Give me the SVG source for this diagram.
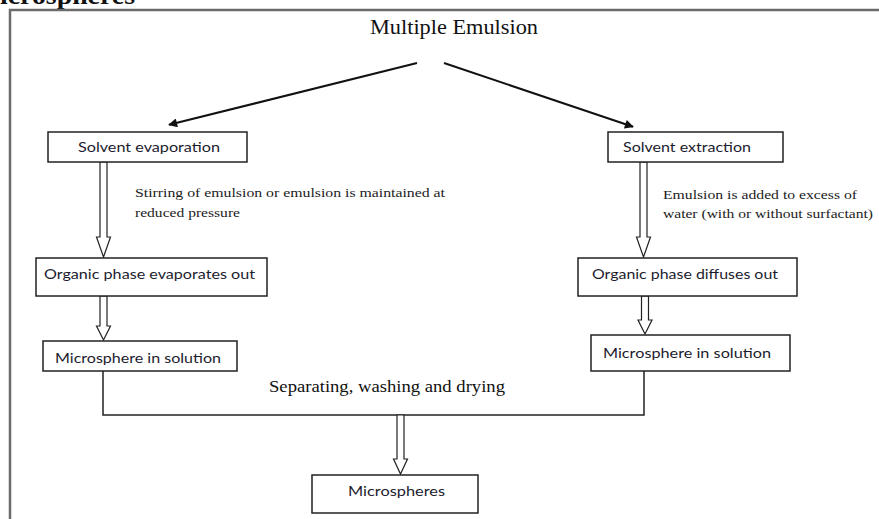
<svg xmlns="http://www.w3.org/2000/svg" width="879" height="519" viewBox="0 0 879 519">
<style>
.frame{fill:none;stroke:#6b6b6b;stroke-width:2.5}
.box{fill:#fff;stroke:#222;stroke-width:1.5}
.lbl{font-family:Lato,"Open Sans","Liberation Sans",sans-serif;font-size:14px;fill:#1c1c2e}
.note{font-family:"Liberation Serif","Times New Roman",serif;font-size:12.5px;fill:#222}
.serif{font-family:"Liberation Serif","Times New Roman",serif;fill:#111}
.hollow{fill:#fff;stroke:#222;stroke-width:1.2}
.line{fill:none;stroke:#222;stroke-width:1.5}
.dir{fill:none;stroke:#111;stroke-width:2}
</style>
<defs>
<marker id="ah" viewBox="0 0 10 10" refX="9" refY="5" markerWidth="10" markerHeight="9" markerUnits="userSpaceOnUse" orient="auto">
<path d="M0,0 L10,5 L0,10 z" fill="#111"/>
</marker>
</defs>
<rect width="879" height="519" fill="#fff"/>
<text class="serif" x="0" y="4" font-size="26" font-weight="bold" textLength="135" lengthAdjust="spacingAndGlyphs">icrospheres</text>
<path class="frame" d="M10,519 L10,10 L879,10"/>
<g id="title">
<text class="serif" x="454" y="34" font-size="21" text-anchor="middle" textLength="168" lengthAdjust="spacingAndGlyphs">Multiple Emulsion</text>
</g>
<g id="connectors">
<line class="dir" x1="417" y1="63" x2="169" y2="124.8" marker-end="url(#ah)"/>
<line class="dir" x1="444" y1="63" x2="633" y2="126.8" marker-end="url(#ah)"/>
<polygon class="hollow" points="100,162 107,162 107,237 110.5,237 103.5,257 96.5,237 100,237"/>
<polygon class="hollow" points="640,162 647,162 647,237 650.5,237 643.5,257 636.5,237 640,237"/>
<polygon class="hollow" points="100,296 107,296 107,326 110.5,326 103.5,340 96.5,326 100,326"/>
<polygon class="hollow" points="641.5,296 648.5,296 648.5,320 652,320 645,334 638,320 641.5,320"/>
<polyline class="line" points="103,371 103,415 644,415 644,371"/>
<polygon class="hollow" points="397,415 404,415 404,459 407.5,459 400.5,474 393.5,459 397,459"/>
<text class="note" x="135" y="197" textLength="310" lengthAdjust="spacingAndGlyphs">Stirring of emulsion or emulsion is maintained at</text>
<text class="note" x="135" y="217" textLength="105" lengthAdjust="spacingAndGlyphs">reduced pressure</text>
<text class="note" x="663" y="199" textLength="194" lengthAdjust="spacingAndGlyphs">Emulsion is added to excess of</text>
<text class="note" x="663" y="218" textLength="210" lengthAdjust="spacingAndGlyphs">water (with or without surfactant)</text>
<text class="serif" x="269" y="392" font-size="17" textLength="236" lengthAdjust="spacingAndGlyphs">Separating, washing and drying</text>
</g>
<g id="n-evap">
<rect class="box" x="48" y="132" width="199" height="30"/>
<text class="lbl" x="78" y="152" textLength="142" lengthAdjust="spacingAndGlyphs">Solvent evaporation</text>
</g>
<g id="n-extr">
<rect class="box" x="608" y="132" width="175" height="30"/>
<text class="lbl" x="623" y="152" textLength="128" lengthAdjust="spacingAndGlyphs">Solvent extraction</text>
</g>
<g id="n-orgevap">
<rect class="box" x="36" y="258" width="231" height="38"/>
<text class="lbl" x="44" y="279" textLength="211" lengthAdjust="spacingAndGlyphs">Organic phase evaporates out</text>
</g>
<g id="n-orgdiff">
<rect class="box" x="578" y="258" width="219" height="38"/>
<text class="lbl" x="592" y="279" textLength="186" lengthAdjust="spacingAndGlyphs">Organic phase diffuses out</text>
</g>
<g id="n-micro-l">
<rect class="box" x="43" y="341" width="194" height="30"/>
<text class="lbl" x="55" y="363" textLength="166" lengthAdjust="spacingAndGlyphs">Microsphere in solution</text>
</g>
<g id="n-micro-r">
<rect class="box" x="591" y="335" width="199" height="36"/>
<text class="lbl" x="603" y="358" textLength="168" lengthAdjust="spacingAndGlyphs">Microsphere in solution</text>
</g>
<g id="n-final">
<rect class="box" x="312" y="475" width="166" height="38"/>
<text class="lbl" x="348" y="496" textLength="97" lengthAdjust="spacingAndGlyphs">Microspheres</text>
</g>
</svg>
